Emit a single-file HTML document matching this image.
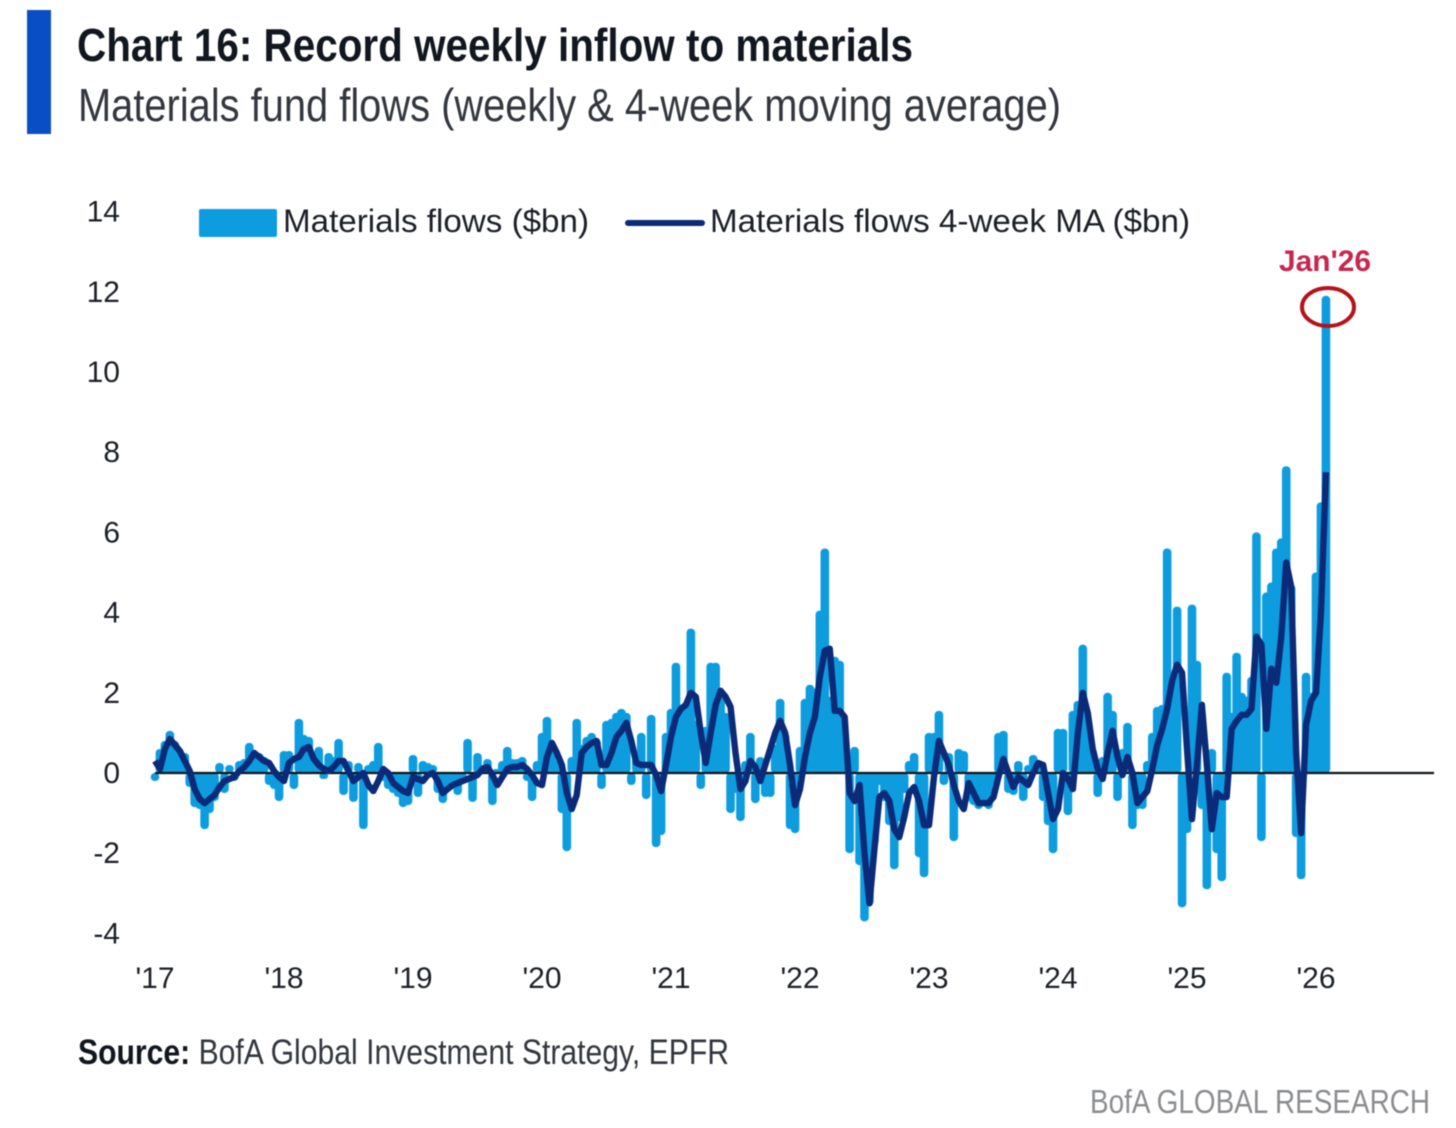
<!DOCTYPE html>
<html lang="en">
<head>
<meta charset="utf-8">
<title>Chart 16: Record weekly inflow to materials</title>
<style>
  html, body { margin: 0; padding: 0; background: #fff; }
  #chart-root { display: block; width: 1456px; height: 1128px; filter: blur(0.55px); }
  text { font-family: "Liberation Sans", sans-serif; }
</style>
</head>
<body>
<svg id="chart-root" xmlns="http://www.w3.org/2000/svg" width="1456" height="1128" viewBox="0 0 1456 1128">
  <rect x="0" y="0" width="1456" height="1128" fill="#ffffff"/>
  <rect x="27" y="10" width="24" height="124" fill="#0a4ec6"/>
  <text x="77" y="61" font-size="46" font-weight="700" fill="#12161f" textLength="836" lengthAdjust="spacingAndGlyphs">Chart 16: Record weekly inflow to materials</text>
  <text x="78" y="121" font-size="46" fill="#33373d" textLength="983" lengthAdjust="spacingAndGlyphs">Materials fund flows (weekly &amp; 4-week moving average)</text>

  <g id="bars"></g>
  <line id="zero-line" stroke="#10141a" stroke-width="2.2"/>
  <path id="ma-line" fill="none" stroke="#0b2a78" stroke-width="6.4" stroke-linejoin="round" stroke-linecap="butt"/>
  <g id="y-ticks"></g>
  <g id="x-ticks"></g>

  <g>
    <g>
      <rect x="199" y="209" width="78" height="28" rx="2" fill="#0d9ddf"/>
      <text x="283" y="232" font-size="32" fill="#1c2026" textLength="306" lengthAdjust="spacingAndGlyphs">Materials flows ($bn)</text>
    </g>
    <g>
      <line x1="628" y1="223" x2="702" y2="223" stroke="#0b2a78" stroke-width="6" stroke-linecap="round"/>
      <text x="710" y="232" font-size="32" fill="#1c2026" textLength="480" lengthAdjust="spacingAndGlyphs">Materials flows 4-week MA ($bn)</text>
    </g>
  </g>

  <text x="1279" y="271" font-size="30" font-weight="700" fill="#c8264f" textLength="92" lengthAdjust="spacingAndGlyphs">Jan'26</text>
  <ellipse cx="1328" cy="307" rx="26" ry="19" fill="none" stroke="#b5121b" stroke-width="4"/>

  <text x="78" y="1064" font-size="35" fill="#33373d" textLength="651" lengthAdjust="spacingAndGlyphs"><tspan font-weight="700" fill="#12161f">Source:</tspan> BofA Global Investment Strategy, EPFR</text>
  <text x="1090" y="1113" font-size="33" fill="#8b8d90" textLength="340" lengthAdjust="spacingAndGlyphs">BofA GLOBAL RESEARCH</text>
</svg>

<script>
/* Categories: one observation per two weeks, from Jan 2017 */
var yearLabels = ["'17", "'18", "'19", "'20", "'21", "'22", "'23", "'24", "'25", "'26"];
var yTickValues = [14, 12, 10, 8, 6, 4, 2, 0, -2, -4];

/* Materials flows ($bn), 26 observations per year */
var flows = [
  -.2,.6,.8,1.05,.8,.6,.5,-.35,-.85,-.9,-1.4,-1.0,-.7,.25,-.5,.2,-.2,.3,.35,.75,.5,.5,.4,-.3,-.4,-.7,
  .55,.55,-.4,1.35,.95,.9,.5,.65,-.15,.5,.4,.85,-.55,.3,-.72,.25,-1.4,.2,.3,.75,-.2,-.4,-.5,-.6,-.85,-.8,
  .45,-.6,.3,.25,.2,-.5,-.75,-.3,-.3,-.55,-.2,.85,-.72,.5,.2,.35,-.8,.1,.3,.65,.35,.35,.4,-.2,-.7,.3,
  1.0,1.4,.7,.3,-1.0,-1.95,.4,1.35,.7,.9,1.0,.85,-.4,1.3,1.35,1.5,1.6,1.5,-.3,.4,1.0,-.65,1.45,-1.85,-1.55,1.0,
  1.6,2.75,1.7,1.7,3.6,1.3,-.4,1.15,2.75,2.75,2.1,1.5,-1.0,-.5,-1.2,.3,1.0,-.75,.4,-.6,-.6,.7,1.85,1.0,-1.4,-1.5,
  .65,1.85,2.2,2.1,4.05,5.6,1.9,2.9,2.8,1.0,-2.0,.65,-2.3,-3.7,-3.3,-1.8,-.3,-.7,-1.3,-2.4,-1.2,-.5,.3,.5,-2.1,-2.6,
  1.0,1.0,1.55,-.3,.5,-1.7,.6,.55,-.7,-.8,-.9,-.8,-.9,-.3,1.0,1.05,-.5,-.55,.3,-.7,.2,.45,.3,-.7,-1.3,-2.0,
  1.1,1.1,-1.05,1.55,1.8,3.2,1.3,.6,-.6,.4,2.0,1.55,-.7,.6,1.25,-1.4,-.9,-.9,.3,1.0,1.65,1.7,5.6,2.0,4.15,-3.35,
  -1.5,4.2,2.8,-.9,-2.9,.6,-2.0,-2.7,2.5,1.5,3.0,2.0,1.9,2.4,6.0,-1.7,4.5,4.75,5.6,5.85,7.65,4.7,-1.6,-2.65,2.5,2.0,
  5.0,6.75,11.9
];

/* Materials flows 4-week MA ($bn) */
var flowsMA = [
  .3,.1,.6,.85,.7,.55,.3,.05,-.4,-.65,-.75,-.65,-.55,-.35,-.2,-.15,-.1,.05,.15,.3,.5,.4,.3,.25,.05,-.1,
  -.2,.25,.35,.4,.6,.65,.35,.2,.1,.05,.15,.3,.3,.05,-.2,-.1,0,-.3,-.45,-.2,.1,0,-.25,-.35,-.45,-.5,
  -.1,-.15,-.2,-.05,0,-.2,-.5,-.4,-.3,-.25,-.2,-.15,-.1,-.05,.1,.15,-.05,-.3,-.1,.1,.15,.15,.2,.1,-.05,-.25,
  -.3,.4,.75,.5,.2,-.5,-.9,-.55,.5,.65,.75,.8,.2,.2,.5,.9,1.05,1.25,.8,.25,.2,.2,.2,-.05,-.45,.2,
  .9,1.4,1.6,1.7,2.0,1.9,1.0,.25,1.0,1.7,2.05,1.9,1.65,.5,-.4,-.2,.3,.15,-.2,.2,.6,1.0,1.3,1.0,.2,-.8,
  -.4,.4,1.0,1.4,2.4,3.05,3.1,1.55,1.55,1.4,-.5,-.7,-.3,-2.0,-3.25,-1.9,-.6,-.5,-.7,-1.4,-1.6,-1.1,-.5,-.35,-.7,-1.3,
  -1.3,-.1,.8,.5,.2,-.3,-.7,-.9,-.25,-.5,-.75,-.75,-.75,-.6,-.1,.35,0,-.35,-.1,-.2,-.3,0,.25,.2,-.5,-1.15,
  -.9,0,-.15,-.4,1.0,2.0,1.5,.6,.1,-.15,.5,1.05,.4,-.05,.4,0,-.75,-.6,-.45,.1,.7,1.1,1.6,2.3,2.7,2.5,
  .6,-1.15,.2,1.7,.2,-1.4,-.5,-.6,-.6,1.1,1.3,1.45,1.45,1.6,3.4,3.2,1.1,2.6,2.25,3.4,5.25,4.65,.5,-1.5,1.2,1.8,
  2.0,4.0,7.5
];

var SVG_NS = 'http://www.w3.org/2000/svg';
var OBS_PER_YEAR = 26;
var BAR_WIDTH = 8.6;

function xScale(obsIndex) { return 155 + obsIndex * (129 / OBS_PER_YEAR); }
function yScale(value) { return 773 - value * 40.1; }

/* Bars */
var barsGroup = document.getElementById('bars');
flows.forEach(function (v, i) {
  var top = Math.min(yScale(v), yScale(0));
  var h = Math.abs(yScale(v) - yScale(0));
  var r = document.createElementNS(SVG_NS, 'rect');
  r.setAttribute('x', (xScale(i) - BAR_WIDTH / 2).toFixed(2));
  r.setAttribute('y', top.toFixed(2));
  r.setAttribute('width', BAR_WIDTH);
  r.setAttribute('height', h.toFixed(2));
  r.setAttribute('rx', Math.min(4, h / 2).toFixed(2));
  r.setAttribute('fill', '#0d9ddf');
  
  
  barsGroup.appendChild(r);
});

/* Zero axis */
var zeroLine = document.getElementById('zero-line');
zeroLine.setAttribute('x1', xScale(0));
zeroLine.setAttribute('x2', 1434);
zeroLine.setAttribute('y1', yScale(0));
zeroLine.setAttribute('y2', yScale(0));

/* Moving average line */
var maPath = flowsMA.map(function (v, i) {
  return (i ? 'L' : 'M') + xScale(i).toFixed(2) + ' ' + yScale(v).toFixed(2);
}).join(' ');
document.getElementById('ma-line').setAttribute('d', maPath);

/* Y axis labels */
var yGroup = document.getElementById('y-ticks');
yTickValues.forEach(function (v) {
  var t = document.createElementNS(SVG_NS, 'text');
  t.setAttribute('x', 120);
  t.setAttribute('y', (yScale(v) + 10).toFixed(1));
  t.setAttribute('text-anchor', 'end');
  t.setAttribute('font-size', '30');
  t.setAttribute('fill', '#1c2026');
  
  
  t.textContent = String(v);
  yGroup.appendChild(t);
});

/* X axis labels */
var xGroup = document.getElementById('x-ticks');
yearLabels.forEach(function (label, i) {
  var t = document.createElementNS(SVG_NS, 'text');
  t.setAttribute('x', xScale(i * OBS_PER_YEAR).toFixed(1));
  t.setAttribute('y', 988);
  t.setAttribute('text-anchor', 'middle');
  t.setAttribute('font-size', '30');
  t.setAttribute('fill', '#1c2026');
  
  
  t.textContent = label;
  xGroup.appendChild(t);
});
</script>
</body>
</html>
